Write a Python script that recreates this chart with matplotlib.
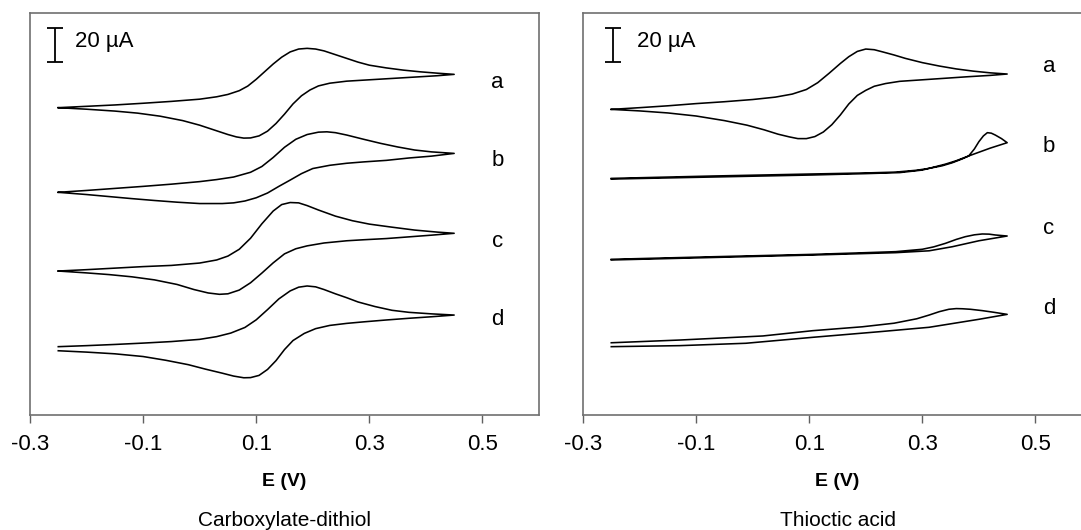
import matplotlib
matplotlib.use("Agg")
import matplotlib.pyplot as plt

plt.rcParams["font.family"] = ["Liberation Sans", "DejaVu Sans"]

# Potentials (V) and currents (uA, each trace offset).
# Each trace runs -0.25 V -> 0.45 V (upper branch) and back (lower branch).

# ---- Carboxylate-dithiol (left panel) ----
cd_a_e = [-0.25, -0.2, -0.15, -0.1, -0.05, 0.0, 0.03, 0.05, 0.07, 0.085, 0.1, 0.115, 0.13, 0.145,
          0.16, 0.175, 0.19, 0.205, 0.22, 0.24, 0.26, 0.28, 0.3, 0.33, 0.36, 0.39, 0.42, 0.45,
          0.42, 0.38, 0.34, 0.3, 0.26, 0.23, 0.21, 0.195, 0.18, 0.165, 0.15, 0.135, 0.12, 0.105,
          0.09, 0.078, 0.065, 0.05, 0.03, 0.0, -0.03, -0.07, -0.11, -0.15, -0.2, -0.25]
cd_a_i = [180.8, 181.6, 182.4, 183.4, 184.5, 185.8, 187.2, 188.6, 190.8, 193.5, 197.5, 202.0, 206.5, 210.5,
          213.6, 215.3, 215.7, 215.3, 214.2, 212.0, 209.8, 207.6, 205.8, 204.2, 202.9, 201.9, 201.1, 200.4,
          199.6, 198.8, 198.0, 197.2, 196.4, 195.2, 193.6, 191.2, 187.8, 183.0, 177.0, 171.5, 167.0, 164.2,
          163.0, 162.9, 163.6, 165.0, 167.2, 170.5, 173.2, 175.8, 177.6, 178.8, 179.9, 180.8]

cd_b_e = [-0.25, -0.2, -0.15, -0.1, -0.05, 0.0, 0.03, 0.06, 0.09, 0.11, 0.13, 0.15, 0.17, 0.19,
          0.21, 0.225, 0.24, 0.26, 0.29, 0.32, 0.35, 0.38, 0.41, 0.45,
          0.41, 0.37, 0.33, 0.29, 0.26, 0.23, 0.2, 0.18, 0.16, 0.14, 0.12, 0.1, 0.08, 0.06,
          0.04, 0.0, -0.04, -0.08, -0.12, -0.16, -0.2, -0.25]
cd_b_i = [131.0, 132.1, 133.3, 134.5, 135.8, 137.3, 138.5, 140.0, 142.8, 146.2, 151.5, 157.5, 162.2, 165.0,
          166.4, 166.6, 166.1, 164.7, 162.2, 159.8, 157.7, 155.9, 154.8, 153.9,
          152.3, 151.2, 149.8, 148.9, 148.1, 146.9, 145.0, 142.0, 138.2, 134.5, 130.6, 127.8, 125.9, 124.8,
          124.4, 124.4, 125.2, 126.2, 127.3, 128.5, 129.7, 131.0]

cd_c_e = [-0.25, -0.2, -0.15, -0.1, -0.05, 0.0, 0.03, 0.05, 0.07, 0.09, 0.11, 0.13, 0.145, 0.16,
          0.175, 0.19, 0.21, 0.24, 0.27, 0.3, 0.34, 0.38, 0.42, 0.45,
          0.41, 0.37, 0.33, 0.29, 0.26, 0.22, 0.19, 0.17, 0.15, 0.13, 0.11, 0.09, 0.07, 0.05,
          0.035, 0.015, -0.01, -0.04, -0.08, -0.12, -0.16, -0.2, -0.25]
cd_c_i = [84.7, 85.5, 86.4, 87.3, 88.0, 89.4, 91.2, 93.5, 97.5, 104.0, 112.5, 120.0, 123.8, 125.0,
          124.8, 123.2, 120.6, 117.0, 114.3, 112.3, 110.5, 108.8, 107.6, 106.9,
          105.8, 104.8, 103.8, 103.1, 102.5, 101.2, 99.5, 97.8, 94.8, 89.5, 83.5, 77.8, 73.5, 71.3,
          71.0, 71.8, 73.8, 76.8, 79.5, 81.3, 82.6, 83.6, 84.7]

cd_d_e = [-0.25, -0.2, -0.15, -0.1, -0.05, 0.0, 0.03, 0.055, 0.08, 0.1, 0.12, 0.14, 0.16, 0.175,
          0.19, 0.205, 0.22, 0.24, 0.26, 0.28, 0.31, 0.34, 0.37, 0.41, 0.45,
          0.41, 0.37, 0.33, 0.29, 0.26, 0.23, 0.205, 0.185, 0.165, 0.15, 0.135, 0.12, 0.105, 0.09,
          0.078, 0.06, 0.04, 0.01, -0.02, -0.06, -0.1, -0.15, -0.2, -0.25]
cd_d_i = [40.2, 40.8, 41.5, 42.3, 43.2, 44.5, 46.1, 48.2, 51.5, 56.0, 62.0, 68.3, 73.0, 75.2,
          75.9, 75.4, 73.8, 71.3, 69.0, 66.5, 63.8, 61.6, 60.4, 59.5, 58.8,
          57.8, 56.9, 55.9, 54.8, 53.9, 52.7, 50.8, 48.0, 43.8, 38.5, 32.0, 26.8, 23.3, 22.0,
          21.9, 22.9, 24.6, 27.0, 29.6, 32.2, 34.4, 36.0, 37.0, 37.8]

# ---- Thioctic acid (right panel) ----
ta_a_e = [-0.25, -0.2, -0.15, -0.1, -0.05, 0.0, 0.04, 0.07, 0.095, 0.115, 0.135, 0.155, 0.17, 0.185,
          0.2, 0.215, 0.23, 0.25, 0.27, 0.3, 0.33, 0.36, 0.39, 0.42, 0.45,
          0.42, 0.38, 0.34, 0.3, 0.26, 0.235, 0.215, 0.2, 0.185, 0.17, 0.155, 0.14, 0.125, 0.11,
          0.095, 0.08, 0.065, 0.045, 0.02, -0.01, -0.05, -0.1, -0.15, -0.2, -0.25]
ta_a_i = [179.8, 180.8, 181.9, 183.2, 184.3, 185.6, 187.0, 188.8, 191.5, 195.5, 201.0, 206.8, 210.8, 213.9,
          215.3, 214.9, 213.6, 211.8, 209.8, 207.3, 205.3, 203.6, 202.3, 201.3, 200.6,
          199.8, 199.0, 198.1, 197.2, 196.3, 195.0, 193.4, 191.0, 188.0, 183.0, 176.5, 170.8, 166.5, 163.8,
          162.6, 162.6, 163.6, 165.2, 167.8, 170.5, 173.2, 175.9, 177.7, 178.9, 179.8]

ta_b_e = [-0.25, -0.071, 0.106, 0.2, 0.253, 0.29, 0.312, 0.335, 0.353, 0.37, 0.382, 0.392, 0.4, 0.408,
          0.415, 0.422, 0.429, 0.44, 0.45,
          0.42, 0.382, 0.36, 0.341, 0.32, 0.3, 0.26, 0.2, 0.106, -0.25]
ta_b_i = [139.2, 140.6, 141.8, 142.4, 142.9, 144.0, 145.1, 146.6, 148.4, 150.6, 152.4, 156.5, 160.8, 164.2,
          166.1, 165.8, 164.7, 162.6, 160.2,
          157.0, 152.4, 149.6, 147.6, 145.8, 144.1, 142.6, 142.0, 141.2, 138.8]

ta_c_e = [-0.25, -0.071, 0.106, 0.2, 0.253, 0.3, 0.32, 0.341, 0.36, 0.376, 0.392, 0.406, 0.418, 0.429, 0.45,
          0.4, 0.353, 0.312, 0.253, 0.106, -0.25]
ta_c_i = [91.6, 93.1, 94.5, 95.5, 96.1, 97.5, 98.9, 101.0, 103.3, 104.9, 106.0, 106.5, 106.4, 105.9, 105.3,
          102.5, 99.0, 96.6, 95.5, 94.1, 91.2]

ta_d_e = [-0.25, -0.129, 0.018, 0.106, 0.194, 0.25, 0.29, 0.312, 0.33, 0.347, 0.36, 0.371, 0.385, 0.406,
          0.425, 0.45,
          0.4, 0.312, 0.224, 0.106, -0.012, -0.129, -0.25]
ta_d_i = [42.5, 44.1, 46.5, 49.6, 51.9, 54.0, 56.6, 58.8, 60.8, 62.2, 62.6, 62.5, 62.2, 61.4,
          60.5, 59.2,
          56.3, 51.6, 49.0, 45.7, 42.2, 40.8, 40.2]

trace_labels = ["a", "b", "c", "d"]
xticks = [-0.3, -0.1, 0.1, 0.3, 0.5]
xtick_labels = ["-0.3", "-0.1", "0.1", "0.3", "0.5"]
titles = ["Carboxylate-dithiol", "Thioctic acid"]
SCALE_UA = 20

panels = [
    [(cd_a_e, cd_a_i), (cd_b_e, cd_b_i), (cd_c_e, cd_c_i), (cd_d_e, cd_d_i)],
    [(ta_a_e, ta_a_i), (ta_b_e, ta_b_i), (ta_c_e, ta_c_i), (ta_d_e, ta_d_i)],
]
label_pos = [
    (0.527, [195.9, 150.0, 101.8, 55.9]),
    (0.524, [204.9, 157.8, 110.0, 62.4]),
]
bar_pos = [(-0.256, -0.22), (-0.247, -0.205)]

W, H = 1081, 530
fig = plt.figure(figsize=(W / 100, H / 100), dpi=100)

ax_rects = [
    [30 / W, (H - 415) / H, 509 / W, 402 / H],
    [583 / W, (H - 415) / H, 509 / W, 402 / H],
]

for k, rect in enumerate(ax_rects):
    ax = fig.add_axes(rect)
    for e, i in panels[k]:
        ax.plot(e, i, color="black", lw=1.15, solid_joinstyle="round")

    lx, lys = label_pos[k]
    for lab, ly in zip(trace_labels, lys):
        ax.text(lx, ly, lab, fontsize=16, ha="center", va="center")

    bx, tx = bar_pos[k]
    ax.errorbar([bx], [217.6], yerr=SCALE_UA / 2, fmt="none", ecolor="black",
                elinewidth=1.3, capsize=5.5, capthick=1.3)
    ax.text(tx, 219.5, "20 µA", fontsize=16, ha="left", va="center")

    ax.set_xlim(-0.3, 0.6)
    ax.set_ylim(0, 236.5)
    ax.set_xticks(xticks)
    ax.set_xticklabels(xtick_labels)
    ax.set_yticks([])
    ax.tick_params(axis="x", direction="out", length=6, width=1.0,
                   color="#606060", labelsize=16, pad=8)
    for sp in ax.spines.values():
        sp.set_color("#707070")
        sp.set_linewidth(1.2)

    cx = (rect[0] + rect[2] / 2)
    fig.text(cx, 1 - 481 / H, "E (V)", fontsize=14, fontweight="bold",
             ha="center", va="center")
    fig.text(cx, 1 - 520 / H, titles[k], fontsize=15, ha="center", va="center")

fig.savefig("out.png", dpi=100)
